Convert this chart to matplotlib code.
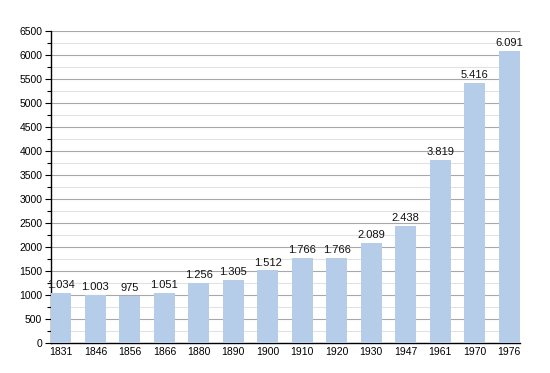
import matplotlib
matplotlib.use("Agg")
import matplotlib.pyplot as plt
from matplotlib.ticker import MultipleLocator

years = ["1831", "1846", "1856", "1866", "1880", "1890", "1900", "1910",
         "1920", "1930", "1947", "1961", "1970", "1976"]
population = [1034, 1003, 975, 1051, 1256, 1305, 1512, 1766, 1766, 2089,
              2438, 3819, 5416, 6091]
labels = ["1.034", "1.003", "975", "1.051", "1.256", "1.305", "1.512", "1.766",
          "1.766", "2.089", "2.438", "3.819", "5.416", "6.091"]

plt.rcParams['font.family'] = ['Liberation Sans', 'DejaVu Sans']

fig = plt.figure(figsize=(5.5, 3.73), dpi=100)
ax = fig.add_axes([0.092, 0.0804, 0.854, 0.8366])

x = list(range(len(years)))
bars = ax.bar(x, population, width=0.61, color="#b5cde8", zorder=3)
for xi, v, lab in zip(x, population, labels):
    ax.text(xi, v + 60, lab, ha="center", va="bottom", fontsize=8, color="#111111", zorder=4)

ax.set_xlim(-0.30, 13.32)
ax.set_ylim(0, 6500)
ax.yaxis.set_major_locator(MultipleLocator(500))
ax.yaxis.set_minor_locator(MultipleLocator(250))
ax.grid(axis="y", which="major", color="#a8a8a8", linewidth=0.8, zorder=0)
ax.grid(axis="y", which="minor", color="#e2e2e2", linewidth=0.8, zorder=0)
ax.set_xticks(x)
ax.set_xticklabels(years)
ax.tick_params(axis="x", length=0, labelsize=7.5, pad=3)
ax.tick_params(axis="y", which="major", length=4, width=0.8, labelsize=7.5, pad=2)
ax.tick_params(axis="y", which="minor", length=3, width=0.8)
for s in ["top", "right"]:
    ax.spines[s].set_visible(False)
ax.spines["left"].set_linewidth(1.0)
ax.spines["bottom"].set_linewidth(1.0)

fig.savefig("out.png", dpi=100)
